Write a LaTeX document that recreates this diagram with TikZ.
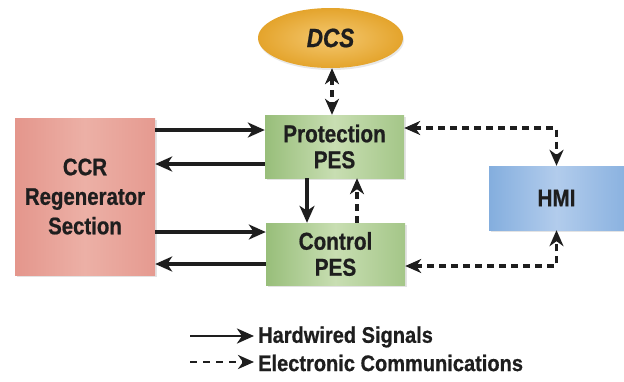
\documentclass[tikz,border=0pt]{standalone}
\usepackage{fontspec}
\setmainfont{Liberation Sans}
\newfontfamily\condfont{Liberation Sans}[FakeStretch=0.85, FakeBold=0.7]
\newfontfamily\legfont{Liberation Sans}[FakeStretch=0.89, FakeBold=0.7]
\usetikzlibrary{arrows.meta,shadows,calc,shapes.geometric}
\definecolor{ccrdark}{RGB}{228,150,140}
\definecolor{ccrlight}{RGB}{236,176,166}
\definecolor{grdark}{RGB}{152,190,122}
\definecolor{grlight}{RGB}{200,222,178}
\definecolor{bldark}{RGB}{132,174,222}
\definecolor{bllight}{RGB}{178,204,236}
\definecolor{golddark}{RGB}{228,164,44}
\definecolor{goldlight}{RGB}{244,200,112}
\definecolor{ink}{RGB}{30,30,30}
\tikzset{
  blockbox/.style={rectangle, inner sep=0pt, text=ink,
    drop shadow={opacity=0.22, shadow xshift=1.5pt, shadow yshift=-2pt},
    font=\condfont\bfseries\fontsize{24.4}{26}\selectfont, align=center},
  ccrbox/.style={blockbox, left color=ccrdark, right color=ccrdark!85!ccrlight, middle color=ccrlight,
    font=\condfont\bfseries\fontsize{24}{29.5}\selectfont},
  pesbox/.style={blockbox, left color=grdark, right color=grdark!75!grlight, middle color=grlight},
  hmibox/.style={blockbox, left color=bldark, right color=bldark!85!bllight, middle color=bllight},
  hw/.style={draw=ink, line width=3.4pt, -{Stealth[length=17pt,width=15pt,inset=5pt]}},
  ec/.style={draw=ink, line width=3.4pt, dash pattern=on 7pt off 5pt,
    -{Stealth[length=16pt,width=14pt,inset=5pt]}},
  ecboth/.style={ec, {Stealth[length=16pt,width=14pt,inset=5pt]}-{Stealth[length=16pt,width=14pt,inset=5pt]}},
  legtext/.style={anchor=west, inner sep=0pt, text=ink, font=\legfont\bfseries\fontsize{22.5}{24}\selectfont},
}
\begin{document}
\begin{tikzpicture}[x=1pt,y=-1pt]
\useasboundingbox (0,0) rectangle (624,381);
% blocks
\node[ccrbox, minimum width=140pt, minimum height=157pt] (ccr) at (85,196.5) {CCR\\Regenerator\\Section};
\node[pesbox, minimum width=139pt, minimum height=63pt] (prot) at (334.5,146.5) {Protection\\PES};
\node[pesbox, minimum width=139pt, minimum height=62pt] (ctrl) at (335.5,254) {Control\\PES};
\node[hmibox, minimum width=135pt, minimum height=64pt] (hmi) at (556.5,198) {HMI};
\node[ellipse, inner sep=0pt, minimum width=145pt, minimum height=60pt, inner color=goldlight, outer color=golddark,
  drop shadow={opacity=0.18, shadow xshift=1pt, shadow yshift=-2pt},
  text=ink, font=\condfont\bfseries\itshape\fontsize{26.5}{28}\selectfont] (dcs) at (330.5,38) {DCS};
% helper coordinates
\coordinate (yA) at (0,130);
\coordinate (yB) at (0,164);
\coordinate (yC) at (0,232);
\coordinate (yD) at (0,264);
\coordinate (yE) at (0,128);
\coordinate (yF) at (0,266);
\coordinate (xA) at (307,0);
\coordinate (xB) at (357,0);
\coordinate (xC) at (332,0);
% hardwired
\draw[hw] (ccr.east |- yA) -- (prot.west |- yA);
\draw[hw] (prot.west |- yB) -- (ccr.east |- yB);
\draw[hw] (ccr.east |- yC) -- (ctrl.west |- yC);
\draw[hw] (ctrl.west |- yD) -- (ccr.east |- yD);
\draw[hw] (xA |- prot.south) -- (xA |- ctrl.north);
% electronic
\draw[ec] (xB |- ctrl.north) -- (xB |- prot.south);
\draw[ecboth] (xC |- dcs.south) -- (xC |- prot.north);
\draw[ecboth] (prot.east |- yE) -| (hmi.north);
\draw[ecboth] (ctrl.east |- yF) -| (hmi.south);
% legend
\coordinate (l1a) at (190,336);
\coordinate (l1b) at (254,336);
\coordinate (l2a) at (190,362);
\coordinate (l2b) at (254,362);
\draw[hw, line width=2.8pt] (l1a) -- (l1b);
\draw[ec, line width=2.8pt, dash pattern=on 7pt off 6pt] (l2a) -- (l2b);
\node[legtext] (t1) at (258,337) {Hardwired Signals};
\node[legtext] (t2) at (258,363) {Electronic Communications};
\end{tikzpicture}
\end{document}
